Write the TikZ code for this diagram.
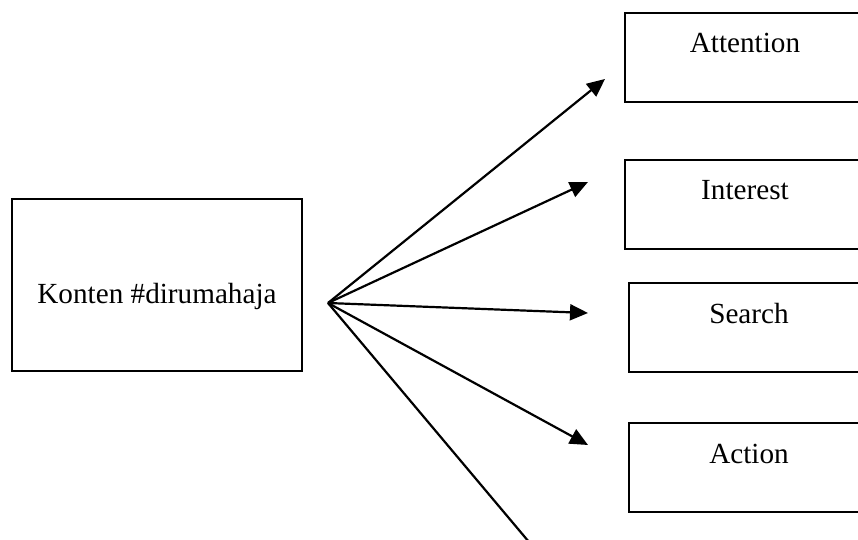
\documentclass[tikz,border=0pt]{standalone}
\usepackage{fontspec}
\setmainfont{Liberation Serif}
\usetikzlibrary{arrows.meta,positioning}
\tikzset {
  % box with its text
  box/.style = {
    draw = black,
    line width = 1.1pt,
    rectangle,
    inner sep = 0,
    font = \fontsize{14.6}{17}\selectfont
  },
  % right column, text at the top
  stage/.style = {
    box,
    minimum width = 120pt,
    text height = 20pt,
    text depth = 24.5pt
  },
  % path with an arrow tip
  arr/.style = {
    draw = black,
    line width = 1.1pt,
    -{Triangle[length=9pt,width=8pt]}
  },
  % path with no arrow tip
  narr/.style = {
    draw = black,
    line width = 1.1pt
  }
}
\begin{document}
\begin{tikzpicture}[x=0.5pt,y=-0.5pt]
    \useasboundingbox (0,0) rectangle (858,540);

    \node[box, minimum width=145pt, text height=52pt, text depth=34pt]
      (konten) at (157,285) {Konten \#dirumahaja};

    \node[stage] (attention) at (745,57.5) {Attention};
    \node[stage] (interest) at (745,204.5) {Interest};
    \node[stage] (search) at (749,327.5) {Search};
    \node[stage] (action) at (749,467.5) {Action};

    \coordinate (hub) at (328,303);
    \coordinate (hub-attention) at (605,79);
    \coordinate (hub-interest) at (588,182);
    \coordinate (hub-search) at (588,313);
    \coordinate (hub-action) at (588,445);
    \coordinate (hub-down) at (529,542);

    % fan of arrows
    \draw[arr] (hub) -- (hub-attention);
    \draw[arr] (hub) -- (hub-interest);
    \draw[arr] (hub) -- (hub-search);
    \draw[arr] (hub) -- (hub-action);
    \draw[narr] (hub) -- (hub-down);
  \end{tikzpicture}
\end{document}
